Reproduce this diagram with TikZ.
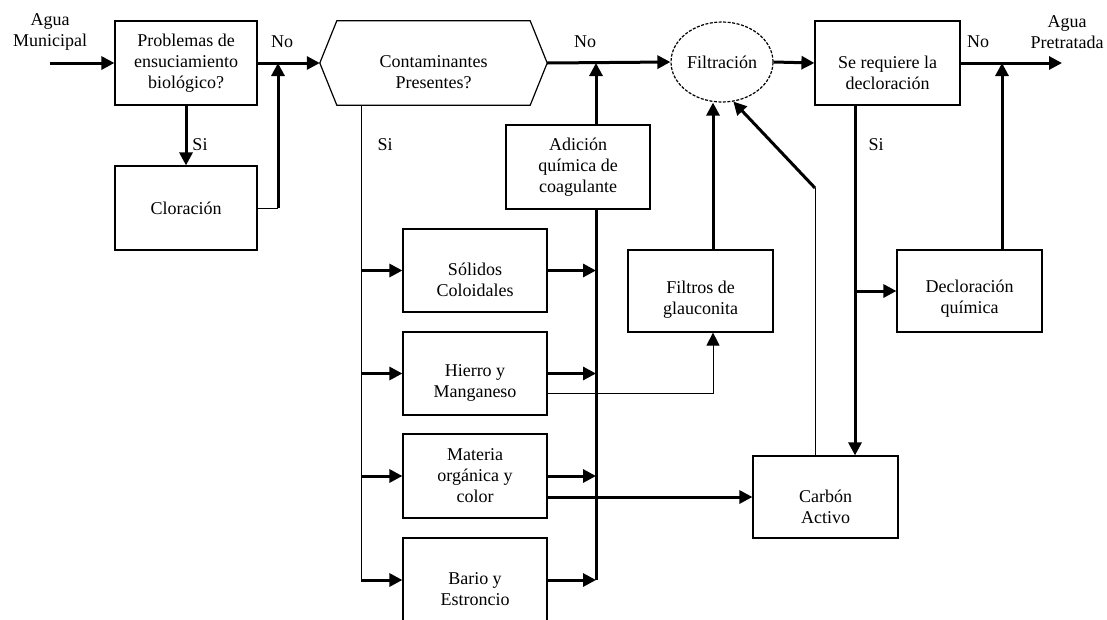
\documentclass[tikz,border=0pt]{standalone}
\usepackage{fontspec}
\setmainfont{Liberation Serif}
\usetikzlibrary{arrows.meta,shapes.geometric}
\begin{document}
\begin{tikzpicture}[x=1pt,y=-1pt,
  txt/.style={font=\fontsize{18}{21}\selectfont, align=center, inner sep=0pt},
  box/.style={txt, draw, line width=1.2pt, minimum width=144pt, minimum height=83pt},
  thickline/.style={line width=3pt},
  thinline/.style={line width=1pt},
  arr/.style={-{Triangle[length=13pt,width=13pt]}},
  ]
\useasboundingbox (0,0) rectangle (1107,619);
\clip (0,0) rectangle (1107,619);
\fill[white] (0,0) rectangle (1107,619);

% coordinates
\coordinate (in) at (50,63);
\coordinate (out) at (1062,63);
\coordinate (j1) at (278,63);
\coordinate (j2) at (596,63);
\coordinate (j3) at (1002,63);
\coordinate (vL) at (361,0);
\coordinate (vR) at (596,0);
\coordinate (fx) at (713,0);
\coordinate (sx) at (855,0);
\coordinate (cx) at (815,0);
\coordinate (bend) at (815,188);

% nodes
\node[txt] (aguaM) at (50,32) {Agua\\Municipal};
\node[txt] (aguaP) at (1067,32) {Agua\\Pretratada};
\node[box, minimum width=142pt, minimum height=84pt] (b1) at (186,63) {Problemas de\\ensuciamiento\\biológico?};
\node[box, minimum width=142pt, minimum height=84pt] (clo) at (186,208) {Cloración};
\node[txt, minimum width=227pt, minimum height=84pt] (hex) at (433.5,63) {};
\node[txt] (hexT) at ([yshift=-9pt]hex.center) {Contaminantes\\Presentes?};
\node[txt, ellipse, draw, dash pattern=on 3pt off 1.5pt, line width=1.2pt, minimum width=102pt, minimum height=80pt] (el) at (722,62) {Filtración};
\node[box, minimum width=145pt, minimum height=84pt] (se) at (887.5,63) {};
\node[txt] (seT) at ([yshift=-10pt]se.center) {Se requiere la\\decloración};
\node[box, minimum height=84pt] (adic) at (578,167) {Adición\\química de\\coagulante};
\node[box] (sol) at (475,270.5) {};
\node[txt] (solT) at ([yshift=-9pt]sol.center) {Sólidos\\Coloidales};
\node[box] (hie) at (475,373.5) {};
\node[txt] (hieT) at ([yshift=-9.5pt]hie.center) {Hierro y\\Manganeso};
\node[box, minimum height=84pt] (mat) at (475,476) {Materia\\orgánica y\\color};
\node[box, minimum height=84pt] (bar) at (475,580) {};
\node[txt] (barT) at ([yshift=-9pt]bar.center) {Bario y\\Estroncio};
\node[box, minimum width=145pt, minimum height=82pt] (filt) at (700.5,291) {};
\node[txt] (filtT) at ([yshift=-8.5pt]filt.center) {Filtros de\\glauconita};
\node[box, minimum width=145pt, minimum height=82pt] (decl) at (969.5,291) {};
\node[txt] (declT) at ([yshift=-8pt]decl.center) {Decloración\\química};
\node[box, minimum width=145pt, minimum height=82pt] (carb) at (825.5,497) {};
\node[txt] (carbT) at ([yshift=-9.5pt]carb.center) {Carbón\\Activo};

\node[txt] (no1) at (282,42) {No};
\node[txt] (no2) at (585,42) {No};
\node[txt] (no3) at (978,42) {No};
\node[txt] (si1) at (200,145) {Si};
\node[txt] (si2) at (385,145) {Si};
\node[txt] (si3) at (876,145) {Si};

% hexagon outline
\draw[line width=1.2pt] (hex.west) -- ([xshift=17pt]hex.north west) -- ([xshift=-17pt]hex.north east)
  -- (hex.east) -- ([xshift=-17pt]hex.south east) -- ([xshift=17pt]hex.south west) -- cycle;

% main flow
\draw[thickline,arr] (in) -- (b1.west);
\draw[thickline,arr] (b1.east) -- (hex.west);
\draw[thickline,arr] (hex.east) -- (el.west);
\draw[thickline,arr] (el.east) -- (se.west);
\draw[thickline,arr] (se.east) -- (out);

% chlorination branch
\draw[thickline,arr] (b1.south) -- (clo.north);
\draw[thinline] (clo.east) -- (clo.east -| j1);
\draw[thickline,arr] (clo.east -| j1) -- (j1);

% contaminants branch
\draw[thinline] (hex.south -| vL) -- (vL |- bar.west);
\foreach \n in {sol,hie,mat,bar}{
  \draw[thickline,arr] (vL |- \n.west) -- (\n.west);
  \draw[thickline,arr] (\n.east) -- (\n.east -| vR);
}
\draw[thickline] (adic.south -| vR) -- (vR |- bar.east);
\draw[thickline,arr] (adic.north -| vR) -- (j2);

% glauconite filters
\draw[thinline,arr] ([yshift=-19.5pt]hie.east) -| (filt.south -| fx);
\draw[thickline,arr] (filt.north -| fx) -- (el.south -| fx);

% activated carbon
\draw[thickline,arr] (mat.east |- carb.west) -- (carb.west);
\draw[thinline] (carb.north -| cx) -- (bend);
\draw[thickline,arr] (bend) -- (el.-74);

% dechlorination
\draw[thickline,arr] (se.south -| sx) -- (carb.north -| sx);
\draw[thickline,arr] (sx |- decl.west) -- (decl.west);
\draw[thickline,arr] (decl.north -| j3) -- (j3);
\end{tikzpicture}
\end{document}
